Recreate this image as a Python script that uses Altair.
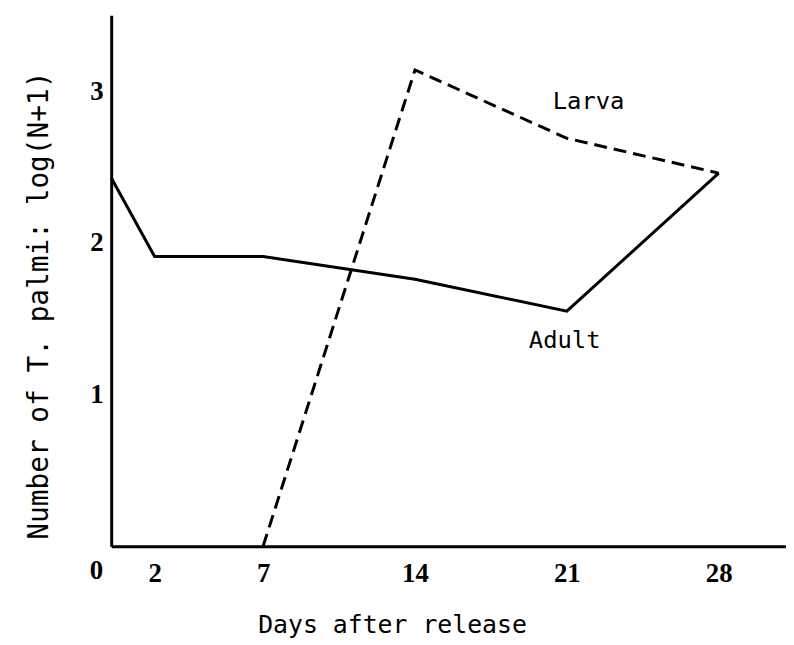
import altair as alt
import pandas as pd

# Data
adult_days = [0, 2, 7, 14, 21, 28]
adult_values = [2.43, 1.91, 1.91, 1.76, 1.55, 2.46]
larva_days = [7, 14, 21, 28]
larva_values = [0.0, 3.14, 2.69, 2.46]
x_ticks = [2, 7, 14, 21, 28]
y_ticks = [1, 2, 3]
label_texts = ["Larva", "Adult"]
label_days = [22.0, 20.9]
label_values = [2.93, 1.35]
origin_text = ["0"]

adult = pd.DataFrame({"day": adult_days, "value": adult_values})
larva = pd.DataFrame({"day": larva_days, "value": larva_values})
labels = pd.DataFrame({"day": label_days, "value": label_values, "text": label_texts})
origin = pd.DataFrame({"day": [0], "value": [0], "text": origin_text})

x_scale = alt.Scale(domain=[0, 31.1], nice=False, zero=False)
y_scale = alt.Scale(domain=[0, 3.5], nice=False)

x_enc = alt.X(
    "day:Q",
    scale=x_scale,
    axis=alt.Axis(
        values=x_ticks,
        format="d",
        title="Days after release",
        labelPadding=14,
        titleX=283,
        titleY=79,
        titleAlign="center",
        titleBaseline="middle",
        titleFontSize=25,
    ),
)
y_enc = alt.Y(
    "value:Q",
    scale=y_scale,
    axis=alt.Axis(
        values=y_ticks,
        format="d",
        title="Number of T. palmi: log(N+1)",
        labelPadding=8,
        titleX=-72,
        titleY=292,
        titleAlign="center",
        titleBaseline="middle",
        titleFontSize=28,
    ),
)

adult_line = alt.Chart(adult).mark_line(color="black", strokeWidth=3).encode(x=x_enc, y=y_enc)
larva_line = alt.Chart(larva).mark_line(
    color="black", strokeWidth=3, strokeDash=[13, 7]
).encode(x="day:Q", y="value:Q")

line_labels = alt.Chart(labels).mark_text(
    font="DejaVu Sans Mono", fontSize=24, color="black", align="center", baseline="middle"
).encode(x="day:Q", y="value:Q", text="text:N")

origin_label = alt.Chart(origin).mark_text(
    font="Liberation Serif", fontSize=27, fontWeight="bold", color="black",
    align="center", baseline="middle", dx=-15, dy=25
).encode(x="day:Q", y="value:Q", text="text:N")

chart = (
    alt.layer(adult_line, larva_line, line_labels, origin_label)
    .properties(
        width=680,
        height=535,
        autosize=alt.AutoSizeParams(type="none"),
        padding={"left": 104, "top": 5, "right": 0, "bottom": 90},
        background="white",
    )
    .configure_view(strokeWidth=0)
    .configure_axis(
        domainColor="black",
        domainWidth=3,
        ticks=False,
        grid=False,
        labelFont="Liberation Serif",
        labelFontSize=27,
        labelFontWeight="bold",
        labelColor="black",
        titleFont="DejaVu Sans Mono",
        titleFontWeight="normal",
        titleColor="black",
    )
)

chart.save("out.html", embed_options={"renderer": "svg", "actions": False})
